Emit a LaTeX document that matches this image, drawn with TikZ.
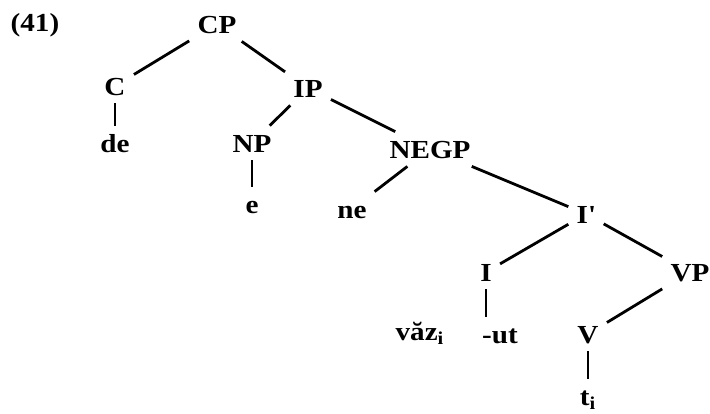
\documentclass[tikz,border=0pt]{standalone}
\usepackage{fontspec}
\setmainfont{Liberation Serif}[FakeStretch=1.12]
\usepackage{tikz}

\tikzset{every node/.style={font=\fontsize{13}{15}\selectfont\bfseries, inner sep=3.5pt, text height=9pt, text depth=0pt}}

\begin{document}
\begin{tikzpicture}[x=0.5pt,y=-0.5pt, line width=1.4pt]
	\useasboundingbox (0,0) rectangle (710,413);
	\node (ex) at (35,22) {(41)};
	\node (cp) at (217,24) {CP};
	\node (c) at (115,86) {C};
	\node (ip) at (308,88) {IP};
	\node (de) at (115,143) {de};
	\node (np) at (252,143) {NP};
	\node (e) at (252,204) {e};
	\node (negp) at (430,149) {NEGP};
	\node (ne) at (352,209) {ne};
	\node (ibar) at (586,214) {I\textquotesingle};
	\node (i) at (486,272) {I};
	\node (vp) at (690,272) {VP};
	\node (vazi) at (420,331) {văz\textsubscript{i}};
	\node (ut) at (500,334) {-ut};
	\node (v) at (588,334) {V};
	\node (ti) at (588,396) {t\textsubscript{i}};
	\draw (cp) edge (c);
	\draw (cp) edge (ip);
	\draw (c) edge (de);
	\draw (ip) edge (np);
	\draw (ip) edge (negp);
	\draw (np) edge (e);
	\draw (negp) edge (ne);
	\draw (negp) edge (ibar);
	\draw (ibar) edge (i);
	\draw (ibar) edge (vp);
	\draw (i) edge (i |- ut.north);
	\draw (vp) edge (v);
	\draw (v) edge (ti);
\end{tikzpicture}
\end{document}
